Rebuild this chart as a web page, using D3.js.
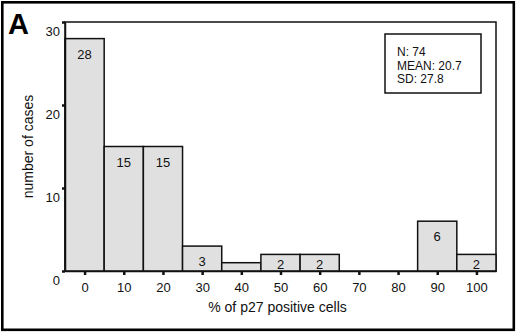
<!DOCTYPE html>
<html><head><meta charset="utf-8">
<script src="https://cdn.jsdelivr.net/npm/d3@7"></script>
<style>body{margin:0;background:#fff}svg{display:block;font-family:"Liberation Sans",Arial,sans-serif}</style>
</head><body>
<script>
const bins = [0,10,20,30,40,50,60,70,80,90,100];
const counts = [28,15,15,3,1,2,2,0,0,6,2];
const yTicks = [0,10,20,30];
const xTitle = "% of p27 positive cells";
const yTitle = "number of cases";
const stats = ["N: 74","MEAN: 20.7","SD: 27.8"];
const panel = "A";

const W=520,H=333;
const svg=d3.select("body").append("svg").attr("width",W).attr("height",H);
const L=65,R=496,T=22,B=271;
const x=d3.scaleLinear().domain([-5,105]).range([L,R]);
const y=d3.scaleLinear().domain([0,30]).range([B,T]);

svg.append("rect").attr("x",2.3).attr("y",2.3).attr("width",511.5).attr("height",327.5)
  .attr("fill","none").attr("stroke","#000").attr("stroke-width",2.6);

// plot frame
svg.append("rect").attr("x",L).attr("y",T).attr("width",R-L).attr("height",B-T)
  .attr("fill","none").attr("stroke","#111").attr("stroke-width",1.5);

// bars
svg.selectAll("rect.bar").data(bins.map((b,i)=>({b,c:counts[i]})).filter(d=>d.c>0))
  .enter().append("rect").attr("class","bar")
  .attr("x",d=>x(d.b-5)).attr("width",d=>x(d.b+5)-x(d.b-5))
  .attr("y",d=>y(d.c)).attr("height",d=>y(0)-y(d.c))
  .attr("fill","#e0e0e0").attr("stroke","#111").attr("stroke-width",1.5);

svg.selectAll("text.lab").data(bins.map((b,i)=>({b,c:counts[i]})).filter(d=>d.c>=2))
  .enter().append("text").attr("class","lab")
  .attr("x",d=>x(d.b)).attr("y",d=>Math.min(y(d.c)+20,269))
  .attr("text-anchor","middle").attr("font-size",13).attr("fill","#111").text(d=>d.c);

// x axis
const xa=svg.append("g").attr("transform",`translate(0,${B})`)
  .call(d3.axisBottom(x).tickValues(bins).tickSize(4).tickSizeOuter(0).tickPadding(8));
xa.select(".domain").attr("stroke","#111").attr("stroke-width",1.5);
xa.selectAll(".tick line").attr("stroke","#111").attr("stroke-width",2.5);
xa.selectAll(".tick text").attr("font-size",13).attr("fill","#111").attr("font-family","Liberation Sans, Arial, sans-serif");

// y axis
const ya=svg.append("g").attr("transform",`translate(${L},0)`)
  .call(d3.axisLeft(y).tickValues(yTicks).tickSize(3).tickSizeOuter(0).tickPadding(2));
ya.select(".domain").attr("stroke","#111").attr("stroke-width",1.5);
ya.selectAll(".tick line").attr("stroke","#111").attr("stroke-width",2.5);
ya.selectAll(".tick text").attr("font-size",13).attr("fill","#111").attr("dy","1.05em")
  .attr("font-family","Liberation Sans, Arial, sans-serif");

svg.append("text").attr("x",(L+R)/2-3).attr("y",312).attr("text-anchor","middle")
  .attr("font-size",14).attr("fill","#111").text(xTitle);
svg.append("text").attr("transform",`translate(33,${(T+B)/2}) rotate(-90)`)
  .attr("text-anchor","middle").attr("font-size",14).attr("fill","#111").text(yTitle);

svg.append("text").attr("x",8).attr("y",33.5).attr("font-size",29).attr("font-weight","bold")
  .attr("fill","#000").text(panel);

// stats box
svg.append("rect").attr("x",385).attr("y",34).attr("width",96).attr("height",59)
  .attr("fill","#fff").attr("stroke","#111").attr("stroke-width",1.5);
svg.selectAll("text.st").data(stats).enter().append("text").attr("class","st")
  .attr("x",397).attr("y",(d,i)=>56+i*13.5).attr("font-size",12).attr("fill","#111").text(d=>d);
</script>
</body></html>
